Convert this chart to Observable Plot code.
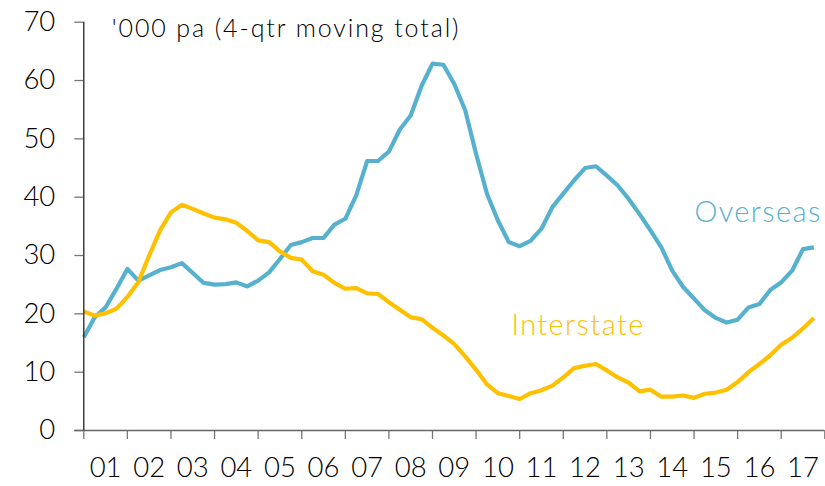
<!DOCTYPE html>
<html>
<head>
<meta charset="utf-8">
<script src="https://cdn.jsdelivr.net/npm/d3@7"></script>
<script src="https://cdn.jsdelivr.net/npm/@observablehq/plot@0.6"></script>
<style>
  html, body { margin: 0; padding: 0; background: #fff; }
  #chart svg { display: block; overflow: visible; }
</style>
</head>
<body>
<div id="chart"></div>
<script>
// Quarterly data, 2001 Q1 .. 2017 Q4 ('000 persons, 4-quarter moving total)
const startYear = 2001;
const overseas = [
  16.0, 19.4, 21.1, 24.3, 27.7, 25.7, 26.6, 27.5, 28.0, 28.7, 27.0, 25.3,
  25.0, 25.1, 25.4, 24.7, 25.7, 27.1, 29.4, 31.8, 32.3, 33.0, 33.0, 35.3,
  36.3, 40.3, 46.2, 46.2, 47.8, 51.6, 54.0, 59.1, 62.9, 62.7, 59.4, 54.9,
  47.4, 40.6, 36.0, 32.3, 31.6, 32.5, 34.6, 38.3, 40.6, 42.9, 45.0, 45.3,
  43.7, 42.0, 39.7, 37.1, 34.3, 31.4, 27.4, 24.6, 22.6, 20.6, 19.3, 18.5,
  19.0, 21.1, 21.7, 24.1, 25.4, 27.4, 31.1, 31.4
];
const interstate = [
  20.4, 19.7, 20.1, 20.9, 22.9, 25.4, 30.0, 34.3, 37.4, 38.7, 38.0, 37.2,
  36.5, 36.2, 35.6, 34.2, 32.6, 32.3, 30.7, 29.6, 29.3, 27.3, 26.7, 25.3,
  24.3, 24.4, 23.5, 23.4, 22.0, 20.7, 19.4, 19.1, 17.6, 16.3, 14.8, 12.7,
  10.4, 7.9, 6.4, 5.9, 5.4, 6.4, 6.9, 7.7, 9.1, 10.7, 11.1, 11.4,
  10.3, 9.1, 8.2, 6.7, 7.0, 5.8, 5.8, 6.0, 5.6, 6.3, 6.5, 7.0,
  8.3, 10.0, 11.4, 12.9, 14.7, 15.9, 17.5, 19.3
];
const yearTicks = d3.range(2001, 2019);
const yearLabels = ["01","02","03","04","05","06","07","08","09","10","11","12","13","14","15","16","17"];
const yTicks = [0, 10, 20, 30, 40, 50, 60, 70];
const seriesNames = ["Overseas", "Interstate"];
const seriesColors = ["#55B1CE", "#FFC000"];
const unitLabel = "'000 pa (4-qtr moving total)";

const rows = [];
overseas.forEach((v, i) => rows.push({series: "Overseas", x: startYear + i / 4, y: v}));
interstate.forEach((v, i) => rows.push({series: "Interstate", x: startYear + i / 4, y: v}));

const labelRows = yearLabels.map((t, i) => ({x: startYear + i + 0.5, t}));

const W = 825, H = 486;
const mL = 83.3, mR = 0.7, mT = 21.7, mB = 56;
const tickLen = 9;
const xPerPx = (2018 - 2001) / (W - mL - mR);
const yPerPx = 70 / (H - mT - mB);

const font = "Lato, 'Open Sans', sans-serif";

const chart = Plot.plot({
  width: W,
  height: H,
  marginLeft: mL,
  marginRight: mR,
  marginTop: mT,
  marginBottom: mB,
  style: {fontFamily: font, background: "#fff", color: "#111", overflow: "visible"},
  x: {domain: [2001, 2018], axis: null},
  y: {domain: [0, 70], axis: null},
  color: {domain: seriesNames, range: seriesColors},
  marks: [
    Plot.ruleY(yTicks, {y: d => d, x1: 2001 - tickLen * xPerPx, x2: 2001, stroke: "#777", strokeWidth: 1.3}),
    Plot.text(yTicks, {y: d => d, x: 2001, text: d => String(d), textAnchor: "end",
      dx: -28.5, fontSize: 27.5, fontWeight: 300, fill: "#000"}),
    Plot.ruleX(yearTicks, {x: d => d, y1: 0, y2: -tickLen * yPerPx, stroke: "#777", strokeWidth: 1.3}),
    Plot.text(labelRows, {x: "x", y: 0, text: "t", dy: 38, lineAnchor: "middle",
      fontSize: 27.5, fontWeight: 300, fill: "#000"}),
    Plot.line(rows, {x: "x", y: "y", z: "series", stroke: "series", strokeWidth: 4.2,
      strokeLinejoin: "round", strokeLinecap: "butt"}),
    Plot.ruleY([0], {x1: 2001 - tickLen * xPerPx, x2: 2018, stroke: "#666", strokeWidth: 1.3}),
    Plot.ruleX([2001], {y1: 0, y2: 70, stroke: "#222", strokeWidth: 1.3}),
    Plot.text(["Overseas"], {x: 2017.93, y: 37.3, text: d => d, fill: "#55B1CE", textAnchor: "end",
      lineAnchor: "middle", fontSize: 29, fontWeight: 300}),
    Plot.text(["Interstate"], {x: 2012.34, y: 17.9, text: d => d, fill: "#FFC000", textAnchor: "middle",
      lineAnchor: "middle", fontSize: 29, fontWeight: 300}),
    Plot.text([unitLabel], {x: 2001.64, y: 68.9, text: d => d, lineAnchor: "middle",
      textAnchor: "start", fontSize: 25, fontWeight: 300, fill: "#000"})
  ]
});

document.getElementById("chart").appendChild(chart);

const svg = d3.select(chart);
svg.selectAll("text").each(function() {
  const t = d3.select(this);
  const s = t.text();
  if (s === unitLabel) t.attr("letter-spacing", "1.9px");
  else if (s === "Overseas" || s === "Interstate") t.attr("letter-spacing", "1.4px");
});
</script>
</body>
</html>
